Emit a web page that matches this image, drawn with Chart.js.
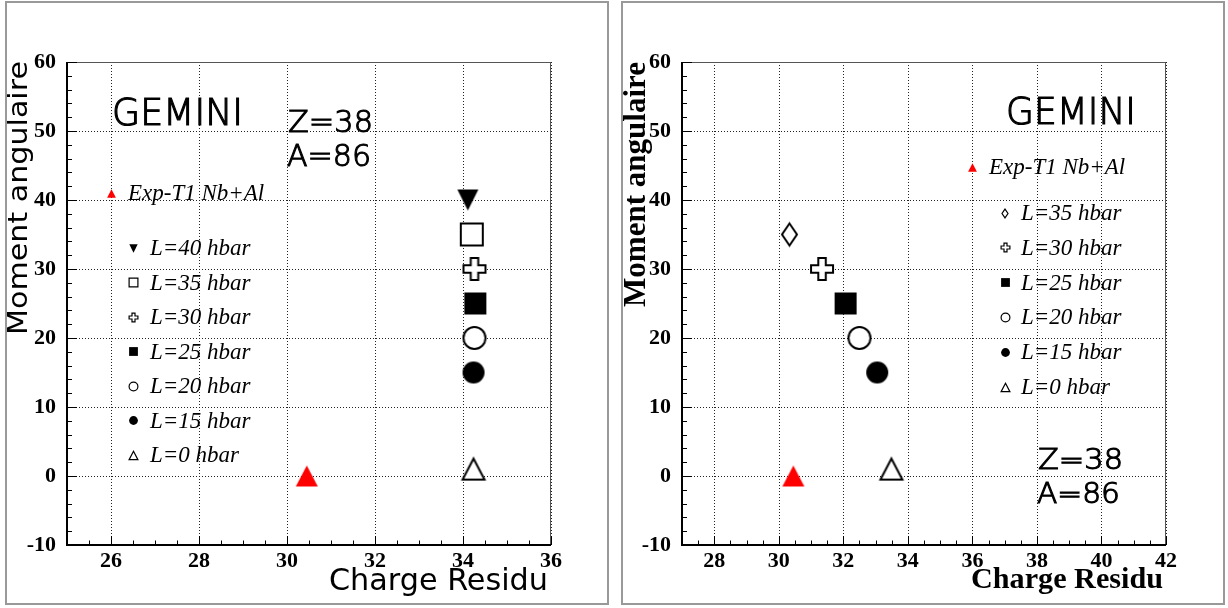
<!DOCTYPE html>
<html>
<head>
<meta charset="utf-8">
<title>GEMINI - Moment angulaire / Charge Residu</title>
<script src="https://cdn.jsdelivr.net/npm/chart.js@4.4.1/dist/chart.umd.min.js"></script>
<style>
body { margin: 0; background: #fff; width: 1228px; height: 608px; position: relative; overflow: hidden; }
.cadre { position: absolute; top: 1px; height: 600px; border: 2px solid #999; }
.panneau { position: absolute; top: 0; height: 608px; }
</style>
</head>
<body>
<div class="cadre" style="left:5px; width:600px"></div>
<div class="cadre" style="left:621px; width:600px"></div>
<canvas id="gauche" class="panneau" width="612" height="608" style="left:0"></canvas>
<canvas id="droite" class="panneau" width="616" height="608" style="left:612px"></canvas>
<script>
// donnees
const expLabel = "Exp-T1 Nb+Al"
const expCharge = [30.45]
const expMoment = [0]

const labelsGauche = ["L=40 hbar", "L=35 hbar", "L=30 hbar", "L=25 hbar", "L=20 hbar", "L=15 hbar", "L=0 hbar"]
const chargeGauche = [34.11, 34.20, 34.26, 34.28, 34.26, 34.24, 34.24]
const momentGauche = [40, 35, 30, 25, 20, 15, 1]

const labelsDroite = ["L=35 hbar", "L=30 hbar", "L=25 hbar", "L=20 hbar", "L=15 hbar", "L=0 hbar"]
const chargeDroite = [30.33, 31.34, 32.07, 32.5, 33.05, 33.49]
const momentDroite = [35, 30, 25, 20, 15, 1]

const axeChargeGauche = [25, 36]
const axeChargeDroite = [27, 42]
const axeMoment = [-10, 60]

const serif = '"Liberation Serif", "Times New Roman", serif'
const sans = '"DejaVu Sans", sans-serif'

// marqueurs facon ROOT, dessines dans un petit canvas
function marqueur(forme, w, h, fond, trait, ep) {
    const pad = Math.ceil(ep || 0) + 1
    const c = document.createElement("canvas")
    c.width = Math.ceil(w) + 2 * pad
    c.height = Math.ceil(h) + 2 * pad
    const g = c.getContext("2d")
    const cx = c.width / 2, cy = c.height / 2
    g.beginPath()
    if (forme == "triHaut") {
        g.moveTo(cx, cy - h / 2); g.lineTo(cx + w / 2, cy + h / 2); g.lineTo(cx - w / 2, cy + h / 2)
    } else if (forme == "triBas") {
        g.moveTo(cx, cy + h / 2); g.lineTo(cx + w / 2, cy - h / 2); g.lineTo(cx - w / 2, cy - h / 2)
    } else if (forme == "carre") {
        g.rect(cx - w / 2, cy - h / 2, w, h)
    } else if (forme == "rond") {
        g.arc(cx, cy, w / 2, 0, Math.PI * 2)
    } else if (forme == "losange") {
        g.moveTo(cx, cy - h / 2); g.lineTo(cx + w / 2, cy); g.lineTo(cx, cy + h / 2); g.lineTo(cx - w / 2, cy)
    } else if (forme == "croix") {
        const a = w * 0.17, b = w / 2, d = h / 2
        const pts = [[-a,-d],[a,-d],[a,-a],[b,-a],[b,a],[a,a],[a,d],[-a,d],[-a,a],[-b,a],[-b,-a],[-a,-a]]
        pts.forEach((p, i) => i ? g.lineTo(cx + p[0], cy + p[1]) : g.moveTo(cx + p[0], cy + p[1]))
    }
    g.closePath()
    if (fond) { g.fillStyle = fond; g.fill() }
    if (trait) { g.strokeStyle = trait; g.lineWidth = ep; g.stroke() }
    return c
}

const formesGauche = [
    ["triBas", 21, 21, "#000", null],
    ["carre", 22, 22, "#fff", "#000"],
    ["croix", 22, 22, "#fff", "#000"],
    ["carre", 22, 22, "#000", null],
    ["rond", 22, 22, "#fff", "#000"],
    ["rond", 22, 22, "#000", null],
    ["triHaut", 22, 21, "#fff", "#000"]
]
const formesDroite = [
    ["losange", 15, 22, "#fff", "#000"],
    ["croix", 22, 22, "#fff", "#000"],
    ["carre", 22, 22, "#000", null],
    ["rond", 22, 22, "#fff", "#000"],
    ["rond", 22, 22, "#000", null],
    ["triHaut", 22, 21, "#fff", "#000"]
]
const formeExp = ["triHaut", 22, 21, "#ff0000", null]

function grand(f) { return marqueur(f[0], f[1], f[2], f[3], f[4], 2) }
function petit(f) { return marqueur(f[0], f[1] * 0.4, f[2] * 0.4, f[3], f[4], 1.2) }

function jeux(labels, charges, moments, formes) {
    const liste = [{
        label: expLabel,
        data: expCharge.map((c, i) => ({ x: c, y: expMoment[i] })),
        pointStyle: grand(formeExp),
        pointRadius: 12
    }]
    labels.forEach((label, i) => {
        liste.push({
            label: label,
            data: [{ x: charges[i], y: moments[i] }],
            pointStyle: grand(formes[i]),
            pointRadius: 12
        })
    })
    return liste
}

function texte(ctx, t) {
    ctx.save()
    ctx.font = t.font
    ctx.fillStyle = "#000"
    ctx.strokeStyle = "#000"
    ctx.textBaseline = "alphabetic"
    const w = ctx.measureText(t.text).width
    const sx = t.width ? t.width / w : 1
    ctx.translate(t.x, t.y)
    if (t.rotate) ctx.rotate(t.rotate)
    ctx.scale(sx, 1)
    const x0 = t.align == "right" ? -w : 0
    ctx.fillText(t.text, x0, 0)
    if (t.gras) { ctx.lineWidth = t.gras; ctx.strokeText(t.text, x0, 0) }
    ctx.restore()
}

function trait(ctx, x1, y1, x2, y2) {
    ctx.beginPath(); ctx.moveTo(x1, y1); ctx.lineTo(x2, y2); ctx.stroke()
}

// cadre, grille pointillee et graduations vers l'interieur
const styleRoot = {
    id: "styleRoot",
    beforeDatasetsDraw(chart) {
        const { ctx, chartArea: a, scales: { x, y } } = chart
        ctx.save()
        ctx.strokeStyle = "#222"
        ctx.lineWidth = 1
        ctx.setLineDash([1, 2])
        x.ticks.forEach(t => {
            const px = Math.round(x.getPixelForValue(t.value)) + 0.5
            trait(ctx, px, a.top, px, a.bottom)
        })
        y.ticks.forEach(t => {
            const py = Math.round(y.getPixelForValue(t.value)) + 0.5
            trait(ctx, a.left, py, a.right, py)
        })
        ctx.setLineDash([])
        ctx.strokeStyle = "#555"
        trait(ctx, a.left, a.top + 0.5, a.right, a.top + 0.5)
        trait(ctx, a.right - 0.5, a.top, a.right - 0.5, a.bottom)
        ctx.strokeStyle = "#000"
        for (let v = x.min; v <= x.max + 1e-6; v += 0.5) {
            const px = Math.round(x.getPixelForValue(v)) + 0.5
            const majeur = Math.abs(v / 2 - Math.round(v / 2)) < 1e-6
            trait(ctx, px, a.bottom, px, a.bottom - (majeur ? 9 : 4.5))
        }
        for (let v = y.min; v <= y.max + 1e-6; v += 2) {
            const py = Math.round(y.getPixelForValue(v)) + 0.5
            const majeur = Math.abs(v % 10) < 1e-6
            trait(ctx, a.left, py, a.left + (majeur ? 10 : 5), py)
        }
        ctx.lineWidth = 2
        trait(ctx, a.left, a.top, a.left, a.bottom + 1)
        trait(ctx, a.left - 1, a.bottom, a.right, a.bottom)
        ctx.restore()
    },
    afterDraw(chart, args, opts) {
        const ctx = chart.ctx
        opts.textes.forEach(t => texte(ctx, t))
        // legende
        const lg = opts.legende
        chart.data.datasets.forEach((ds, i) => {
            const mx = i ? lg.x : lg.x0
            const my = i ? lg.y + (i - 1) * lg.dy : lg.y0
            const tx = i ? lg.tx : lg.tx0
            const icone = petit(i ? lg.formes[i - 1] : formeExp)
            ctx.drawImage(icone, Math.round(mx - icone.width / 2), Math.round(my - icone.height / 2))
            ctx.save()
            ctx.font = "italic 23px " + serif
            ctx.fillStyle = "#000"
            ctx.textBaseline = "middle"
            ctx.fillText(ds.label, tx, my + 1)
            ctx.restore()
        })
    }
}

function options(axeX, droitePad, largeurY, plug) {
    const tickFont = { family: serif, weight: "bold", size: 22 }
    return {
        responsive: false,
        animation: false,
        events: [],
        layout: { padding: { left: 0, top: 62, right: droitePad, bottom: 0 } },
        plugins: { legend: { display: false }, tooltip: { enabled: false }, styleRoot: plug },
        scales: {
            x: {
                type: "linear", min: axeX[0], max: axeX[1],
                ticks: { stepSize: 2, includeBounds: false, padding: 3, color: "#000", font: tickFont, maxRotation: 0 },
                grid: { display: false, drawTicks: false },
                border: { display: false },
                afterFit: s => { s.height = 63 }
            },
            y: {
                type: "linear", min: axeMoment[0], max: axeMoment[1],
                ticks: { stepSize: 10, includeBounds: false, padding: 11, color: "#000", font: tickFont },
                grid: { display: false, drawTicks: false },
                border: { display: false },
                afterFit: s => { s.width = largeurY }
            }
        }
    }
}

new Chart(document.getElementById("gauche"), {
    type: "scatter",
    data: { datasets: jeux(labelsGauche, chargeGauche, momentGauche, formesGauche) },
    options: options(axeChargeGauche, 61, 67, {
        textes: [
            { text: "GEMINI", x: 112, y: 125, font: "200 38px " + sans, width: 131, gras: 1.2 },
            { text: "Z=38", x: 288, y: 132, font: "200 31px " + sans, width: 85, gras: 1.1 },
            { text: "A=86", x: 287, y: 166, font: "200 31px " + sans, width: 84, gras: 1.1 },
            { text: "Charge Residu", x: 329, y: 590, font: "30px " + sans, width: 219 },
            { text: "Moment angulaire", x: 27, y: 61, font: "27px " + sans, width: 274, rotate: -Math.PI / 2, align: "right" }
        ],
        legende: { x0: 111, y0: 193, tx0: 128, x: 133, y: 248, dy: 34.5, tx: 150, formes: formesGauche }
    }),
    plugins: [styleRoot]
})

new Chart(document.getElementById("droite"), {
    type: "scatter",
    data: { datasets: jeux(labelsDroite, chargeDroite, momentDroite, formesDroite) },
    options: options(axeChargeDroite, 62, 70, {
        textes: [
            { text: "GEMINI", x: 394, y: 124, font: "200 38px " + sans, width: 130, gras: 1.2 },
            { text: "Z=38", x: 426, y: 469, font: "200 28px " + sans, width: 85, gras: 1.1 },
            { text: "A=86", x: 425, y: 503, font: "200 28px " + sans, width: 83, gras: 1.1 },
            { text: "Charge Residu", x: 359, y: 588, font: "bold 30px " + serif, width: 192 },
            { text: "Moment angulaire", x: 33, y: 62, font: "bold 31px " + serif, width: 245, rotate: -Math.PI / 2, align: "right" }
        ],
        legende: { x0: 360, y0: 167, tx0: 377, x: 393, y: 213, dy: 34.8, tx: 409, formes: formesDroite }
    }),
    plugins: [styleRoot]
})
</script>
</body>
</html>
